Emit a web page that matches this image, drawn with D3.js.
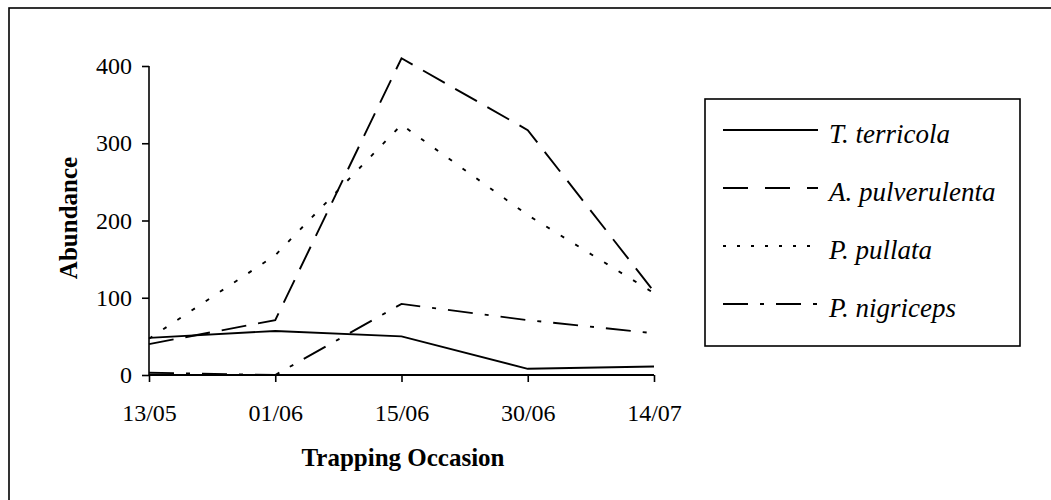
<!DOCTYPE html>
<html>
<head>
<meta charset="utf-8">
<script src="https://cdn.jsdelivr.net/npm/d3@7"></script>
<style>
  html, body { margin: 0; padding: 0; background: #fff; }
  svg { display: block; }
  text { font-family: "Liberation Serif", "Times New Roman", serif; fill: #000; }
</style>
</head>
<body>
<svg id="chart" width="1051" height="500"></svg>
<script>
const categories = ["13/05", "01/06", "15/06", "30/06", "14/07"];
const seriesNames = ["T. terricola", "A. pulverulenta", "P. pullata", "P. nigriceps"];
const tTerricola = [48, 57, 50, 8, 11];
const aPulverulenta = [40, 71, 410, 317, 108];
const pPullata = [47, 155, 324, 207, 106];
const pNigriceps = [3, 0, 92, 71, 54];
const yTicks = [0, 100, 200, 300, 400];

const seriesValues = [tTerricola, aPulverulenta, pPullata, pNigriceps];
const dashes = ["none", "25,12", "4,13", "25,12,4,12"];
const legendDashes = ["none", "25,17", "3,11", "25,12,4,12"];

const svg = d3.select("#chart");

// outer frame (extends beyond right and bottom of the picture)
svg.append("rect")
  .attr("x", 9).attr("y", 8)
  .attr("width", 1100).attr("height", 600)
  .attr("fill", "none").attr("stroke", "#000").attr("stroke-width", 1.6);

const x = d3.scalePoint().domain(categories).range([149, 654]);
const y = d3.scaleLinear().domain([0, 400]).range([375, 66]);

// y axis
const yAxis = d3.axisLeft(y).tickValues(yTicks).tickSize(7).tickPadding(10);
const gy = svg.append("g").attr("transform", "translate(149,0)").call(yAxis);
gy.select(".domain").attr("stroke", "#000").attr("stroke-width", 1.6)
  .attr("d", `M0,${y(400)}V${y(0)}`);
gy.selectAll(".tick line").attr("stroke", "#000").attr("stroke-width", 1.6);
gy.selectAll(".tick text")
  .style("font-family", '"Liberation Serif", serif')
  .style("font-size", "24px").attr("fill", "#000");

// x axis
const xAxis = d3.axisBottom(x).tickSize(7).tickPadding(22);
const gx = svg.append("g").attr("transform", `translate(0,${y(0)})`).call(xAxis);
gx.select(".domain").attr("stroke", "#000").attr("stroke-width", 2)
  .attr("d", `M${x(categories[0])},0H${x(categories[categories.length - 1])}`);
gx.selectAll(".tick line").attr("stroke", "#000").attr("stroke-width", 1.6);
gx.selectAll(".tick text")
  .style("font-family", '"Liberation Serif", serif')
  .style("font-size", "24px").attr("fill", "#000");

// lines
const line = d3.line()
  .x((d, i) => x(categories[i]))
  .y(d => y(d));

seriesValues.forEach((vals, k) => {
  svg.append("path")
    .datum(vals)
    .attr("d", line)
    .attr("fill", "none")
    .attr("stroke", "#000")
    .attr("stroke-width", 1.9)
    .attr("stroke-dasharray", dashes[k]);
});

// axis titles
svg.append("text")
  .attr("x", 403).attr("y", 466)
  .attr("text-anchor", "middle")
  .style("font-size", "25px").style("font-weight", "bold")
  .text("Trapping Occasion");

svg.append("text")
  .attr("transform", "translate(77,218) rotate(-90)")
  .attr("text-anchor", "middle")
  .style("font-size", "25px").style("font-weight", "bold")
  .text("Abundance");

// legend
const legend = svg.append("g");
legend.append("rect")
  .attr("x", 705).attr("y", 99)
  .attr("width", 315).attr("height", 247)
  .attr("fill", "#fff").attr("stroke", "#000").attr("stroke-width", 1.6);

seriesNames.forEach((name, k) => {
  const by = 143 + k * 58;
  legend.append("line")
    .attr("x1", 723).attr("x2", 818)
    .attr("y1", by - 13).attr("y2", by - 13)
    .attr("stroke", "#000").attr("stroke-width", 1.9)
    .attr("stroke-dasharray", legendDashes[k]);
  legend.append("text")
    .attr("x", 829).attr("y", by)
    .style("font-size", "27px").style("font-style", "italic")
    .text(name);
});
</script>
</body>
</html>
